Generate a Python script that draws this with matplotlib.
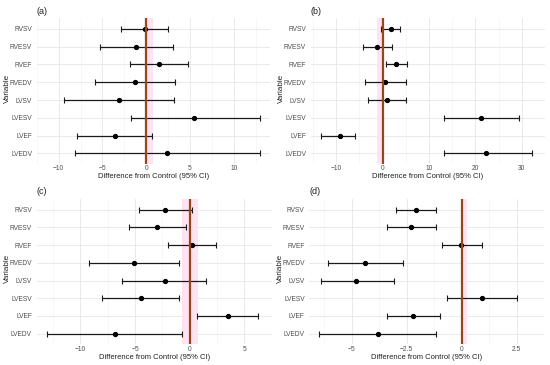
import matplotlib
matplotlib.use("Agg")
import matplotlib.pyplot as plt
import numpy as np

plt.rcParams['font.family'] = ['Liberation Sans', 'DejaVu Sans']

variables = ["LVEDV", "LVEF", "LVESV", "LVSV", "RVEDV", "RVEF", "RVESV", "RVSV"]

# panel (a)
a_est = [2.41, -3.60, 5.49, -3.11, -1.29, 1.47, -1.12, -0.17]
a_lo = [-8.18, -7.87, -1.71, -9.40, -5.87, -1.82, -5.24, -2.87]
a_hi = [13.0, 0.63, 13.0, 3.22, 3.32, 4.79, 3.00, 2.52]
# panel (b)
b_est = [22.2, -9.27, 21.2, 0.92, 0.50, 2.97, -1.20, 1.77]
b_lo = [13.2, -13.2, 13.2, -3.20, -3.75, 0.85, -4.20, -0.35]
b_hi = [32.3, -6.00, 29.4, 5.00, 4.95, 5.30, 2.05, 3.80]
# panel (c)
c_est = [-6.85, 3.48, -4.50, -2.31, -5.10, 0.21, -3.00, -2.22]
c_lo = [-13.06, 0.69, -8.02, -6.19, -9.22, -1.95, -5.53, -4.62]
c_hi = [-0.75, 6.25, -0.99, 1.53, -0.99, 2.43, -0.36, 0.24]
# panel (d)
d_est = [-3.80, -2.20, 0.92, -4.78, -4.37, -0.01, -2.30, -2.07]
d_lo = [-6.47, -3.38, -0.67, -6.37, -6.08, -0.91, -3.39, -3.00]
d_hi = [-1.18, -0.98, 2.51, -3.08, -2.68, 0.90, -1.18, -1.18]

panels = [
    ("(a)", a_est, a_lo, a_hi, [-10, -5, 0, 5, 10], (0.0, 0.8)),
    ("(b)", b_est, b_lo, b_hi, [-10, 0, 10, 20, 30], (-1.1, 0.0)),
    ("(c)", c_est, c_lo, c_hi, [-10, -5, 0, 5], (-0.7, 0.8)),
    ("(d)", d_est, d_lo, d_hi, [-5, -2.5, 0, 2.5], (0.0, 0.25)),
]

W, H = 550, 365
fig = plt.figure(figsize=(5.5, 3.65), dpi=100)
fig.patch.set_facecolor("white")

# pixel boxes: left, right, top, bottom
boxes = [
    (36.7, 270.0, 18.3, 164.0),
    (310.7, 545.0, 18.3, 164.0),
    (36.5, 271.7, 199.0, 344.3),
    (309.3, 544.3, 199.0, 344.3),
]

def fmt(v):
    if float(v).is_integer():
        s = str(int(v))
    else:
        s = str(v)
    return s.replace("-", "\u2212")

for (label, est, lo, hi, ticks, band), (l, r, t, b) in zip(panels, boxes):
    ax = fig.add_axes([l / W, 1 - b / H, (r - l) / W, (b - t) / H])
    ax.set_facecolor("white")
    y = np.arange(1, len(variables) + 1)
    lo_a = np.array(lo); hi_a = np.array(hi); est_a = np.array(est)
    rng = hi_a.max() - lo_a.min()
    ax.set_xlim(lo_a.min() - 0.05 * rng, hi_a.max() + 0.05 * rng)
    ax.set_ylim(0.4, len(variables) + 0.6)
    # grid
    ax.set_xticks(ticks)
    minor = [(ticks[i] + ticks[i + 1]) / 2 for i in range(len(ticks) - 1)]
    step = ticks[1] - ticks[0]
    minor = [ticks[0] - step / 2] + minor + [ticks[-1] + step / 2]
    ax.set_xticks(minor, minor=True)
    ax.set_yticks(y)
    ax.grid(True, which="major", color="#e6e6e6", lw=0.6)
    ax.grid(True, which="minor", axis="x", color="#f2f2f2", lw=0.4)
    ax.set_axisbelow(True)
    ax.axvspan(band[0], band[1], color="#ffe3f3", zorder=1, lw=0)
    ax.errorbar(est_a, y, xerr=[est_a - lo_a, hi_a - est_a], fmt="o", color="black",
                ecolor="#1a1a1a", elinewidth=0.9, capsize=2, capthick=0.8,
                markersize=2.8, zorder=3)
    ax.axvline(0, color="#96461c", lw=1.6, zorder=4)
    for s in ax.spines.values():
        s.set_visible(False)
    ax.tick_params(axis="both", which="both", length=0, labelsize=4.8, labelcolor="#4d4d4d")
    ax.tick_params(axis="x", pad=1.0)
    ax.tick_params(axis="y", pad=3.3)
    ax.set_xticklabels([fmt(v) for v in ticks])
    ax.set_yticklabels(variables)
    fig.text((l + r) / 2 / W, 1 - (b + 13) / H, "Difference from Control (95% CI)",
             fontsize=5.5, ha="center", va="center", color="#222222")
    fig.text((l - 29) / W, 1 - ((t + b) / 2 - 3) / H, "Variable", rotation=90,
             fontsize=5.9, ha="center", va="center", color="#222222")
    fig.text(l / W, 1 - (t - 7) / H, label, fontsize=6.5, ha="left", va="center", color="#222222")

fig.savefig("out.png", dpi=100, facecolor="white")
